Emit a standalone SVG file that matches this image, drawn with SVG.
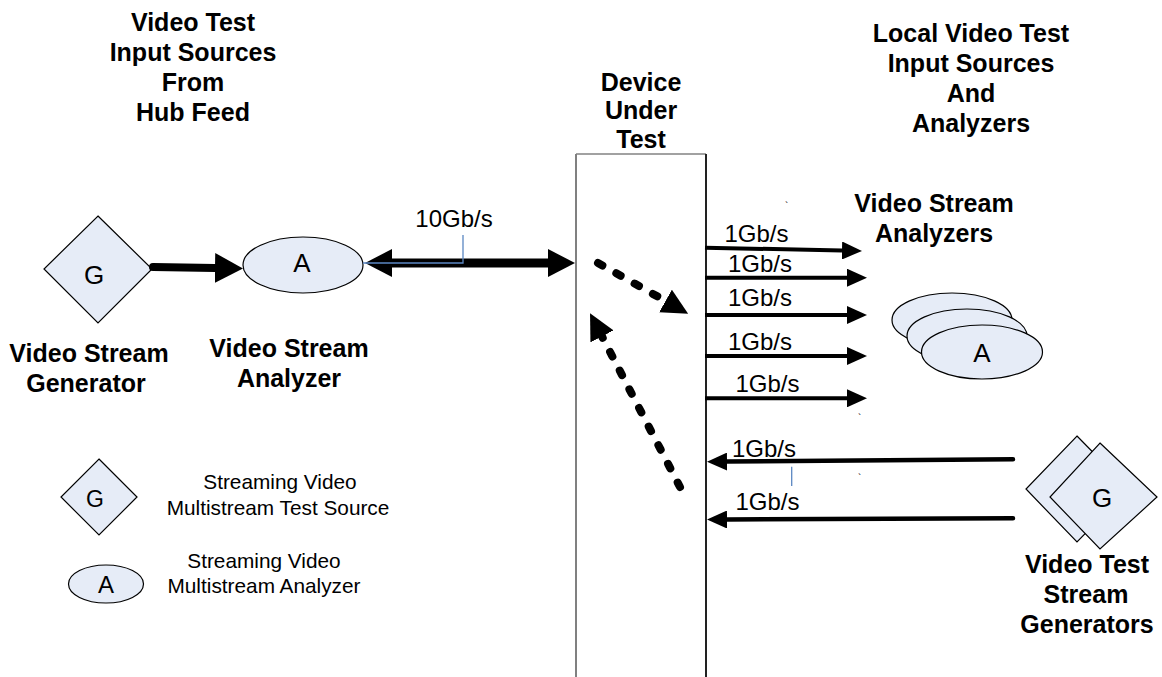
<svg xmlns="http://www.w3.org/2000/svg" width="1162" height="677" viewBox="0 0 1162 677">
<style>
.t{font-family:"Liberation Sans",Arial,sans-serif;fill:#000}
.b{font-weight:bold;font-size:25px;text-anchor:middle}
.r{font-size:24px}
.lg{font-size:20.8px;text-anchor:middle}
.sym{font-size:26px;text-anchor:middle}
.shape{fill:#e6ecf7;stroke:#000;stroke-width:1.2}
.blk{stroke:#000;fill:none}
.dash{stroke:#000;fill:none;stroke-width:8;stroke-linecap:round;stroke-dasharray:5 16}
.call{stroke:#5b87c2;stroke-width:1.3;fill:none}
</style>
<defs>
<marker id="ahG" markerUnits="userSpaceOnUse" markerWidth="28" markerHeight="30" refX="0" refY="15" orient="auto"><path d="M0,0 L28,15 L0,30 z" fill="#000"/></marker>
<marker id="ah10" markerUnits="userSpaceOnUse" markerWidth="27" markerHeight="28" refX="0" refY="14" orient="auto-start-reverse"><path d="M0,0 L27,14 L0,28 z" fill="#000"/></marker>
<marker id="ah1" markerUnits="userSpaceOnUse" markerWidth="20" markerHeight="18" refX="0" refY="9" orient="auto"><path d="M0,0 L20,9 L0,18 z" fill="#000"/></marker>
<marker id="ahD" markerUnits="userSpaceOnUse" markerWidth="26" markerHeight="26" refX="0" refY="13" orient="auto"><path d="M0,0 L26,13 L0,26 z" fill="#000"/></marker>
</defs>
<rect width="1162" height="677" fill="#fff"/>

<g id="title-hub">
<text class="t b" x="193" y="31">Video Test</text>
<text class="t b" x="193" y="61">Input Sources</text>
<text class="t b" x="193" y="91">From</text>
<text class="t b" x="193" y="121">Hub Feed</text>
</g>
<g id="title-local">
<text class="t b" x="971" y="42">Local Video Test</text>
<text class="t b" x="971" y="72">Input Sources</text>
<text class="t b" x="971" y="102">And</text>
<text class="t b" x="971" y="132">Analyzers</text>
</g>

<g id="dut">
<text class="t b" x="641" y="91">Device</text>
<text class="t b" x="641" y="119">Under</text>
<text class="t b" x="641" y="148">Test</text>
<line x1="576" y1="154" x2="706" y2="154" stroke="#444" stroke-width="1.2"/>
<line x1="576" y1="154" x2="576" y2="677" stroke="#808080" stroke-width="2"/>
<line x1="706" y1="154" x2="706" y2="677" stroke="#222" stroke-width="2"/>
</g>

<g id="gen-left">
<polygon class="shape" points="98,216 152,269 98,323 44,269"/>
<text class="t sym" x="94" y="284">G</text>
<text class="t b" x="89" y="362">Video Stream</text>
<text class="t b" x="86" y="392">Generator</text>
</g>

<g id="ana-left">
<ellipse class="shape" cx="303" cy="265" rx="60" ry="28"/>
<text class="t sym" x="302" y="272">A</text>
<text class="t b" x="289" y="357">Video Stream</text>
<text class="t b" x="289" y="387">Analyzer</text>
</g>

<g id="analyzers-right">
<ellipse class="shape" cx="952" cy="320" rx="60" ry="27"/>
<ellipse class="shape" cx="967" cy="336" rx="60" ry="27"/>
<ellipse class="shape" cx="982" cy="352" rx="60.5" ry="27"/>
<text class="t sym" x="982" y="362">A</text>
<text class="t b" x="934" y="212">Video Stream</text>
<text class="t b" x="934" y="242">Analyzers</text>
</g>

<g id="generators-right">
<polygon class="shape" points="1077,436 1129,489 1077,542 1026,489"/>
<polygon class="shape" points="1100,443 1157,497 1100,549 1050,497"/>
<text class="t sym" x="1102" y="507">G</text>
<text class="t b" x="1087" y="573">Video Test</text>
<text class="t b" x="1086" y="603">Stream</text>
<text class="t b" x="1087" y="633">Generators</text>
</g>

<g id="legend">
<polygon class="shape" points="99,459 137,497 99,535 61,497"/>
<text class="t" x="95" y="507" style="font-size:23px;text-anchor:middle">G</text>
<text class="t lg" x="280" y="489">Streaming Video</text>
<text class="t lg" x="278" y="515">Multistream Test Source</text>
<ellipse class="shape" cx="106" cy="584" rx="37.5" ry="19"/>
<text class="t" x="106" y="593" style="font-size:24px;text-anchor:middle">A</text>
<text class="t lg" x="264" y="568">Streaming Video</text>
<text class="t lg" x="264" y="593">Multistream Analyzer</text>
</g>

<g id="connectors">
<line class="blk" x1="153" y1="267" x2="215" y2="268" stroke-width="8" stroke-linecap="round" marker-end="url(#ahG)"/>
<line class="blk" x1="392" y1="263" x2="548" y2="263" stroke-width="9" marker-start="url(#ah10)" marker-end="url(#ah10)"/>
<polyline class="call" points="463,235 463,263 363,263"/>

<line class="blk" x1="705" y1="247.7" x2="842" y2="250.5" stroke-width="4" marker-end="url(#ah1)"/>
<line class="blk" x1="705" y1="277.7" x2="847" y2="277.7" stroke-width="4" marker-end="url(#ah1)"/>
<line class="blk" x1="705" y1="315" x2="847" y2="315" stroke-width="4" marker-end="url(#ah1)"/>
<line class="blk" x1="705" y1="356" x2="847" y2="356" stroke-width="4" marker-end="url(#ah1)"/>
<line class="blk" x1="705" y1="398.3" x2="847" y2="398.3" stroke-width="4" marker-end="url(#ah1)"/>

<line class="blk" x1="1013" y1="459.3" x2="727" y2="461.6" stroke-width="4.5" stroke-linecap="round" marker-end="url(#ah1)"/>
<line class="blk" x1="1013" y1="518.3" x2="727" y2="519.5" stroke-width="4.5" stroke-linecap="round" marker-end="url(#ah1)"/>
<line class="call" x1="791.7" y1="466.7" x2="791.7" y2="486"/>

<line class="dash" x1="598" y1="263" x2="665.5" y2="301" marker-end="url(#ahD)"/>
<line class="dash" x1="680" y1="487" x2="602" y2="336.4" marker-end="url(#ahD)"/>

<text class="t r" x="454" y="227" text-anchor="middle">10Gb/s</text>
<text class="t r" x="756.5" y="241.7" text-anchor="middle">1Gb/s</text>
<text class="t r" x="760" y="271.7" text-anchor="middle">1Gb/s</text>
<text class="t r" x="760" y="306" text-anchor="middle">1Gb/s</text>
<text class="t r" x="760" y="350" text-anchor="middle">1Gb/s</text>
<text class="t r" x="767.5" y="391.7" text-anchor="middle">1Gb/s</text>
<text class="t r" x="764" y="456.7" text-anchor="middle">1Gb/s</text>
<text class="t r" x="767.5" y="510" text-anchor="middle">1Gb/s</text>
<text class="t" x="785" y="210" style="font-size:10px">`</text>
<text class="t" x="858" y="422" style="font-size:10px">`</text>
<text class="t" x="858" y="482" style="font-size:10px">`</text>
</g>
</svg>
